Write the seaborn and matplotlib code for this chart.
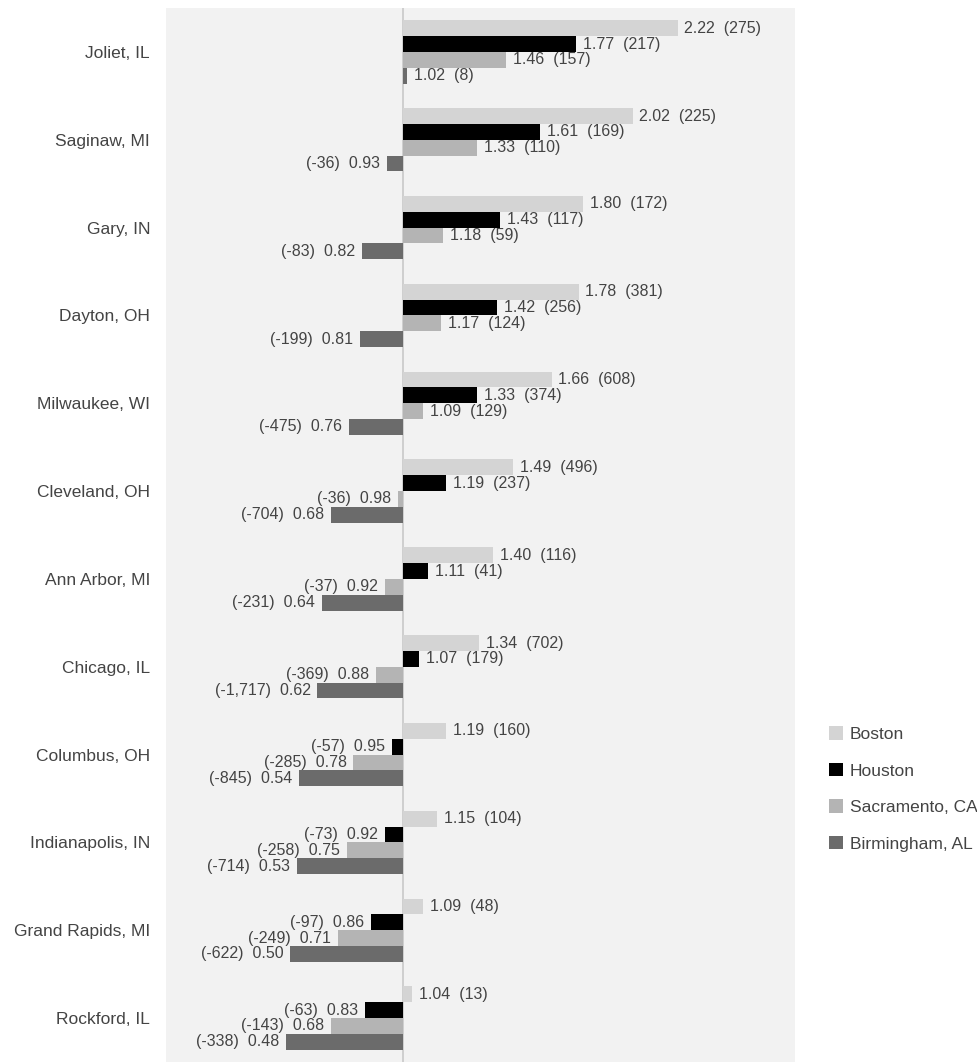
import numpy as np
import pandas as pd
import matplotlib
matplotlib.use("Agg")
import matplotlib.pyplot as plt
from matplotlib.patches import Patch
import seaborn as sns

# --- DATA ---
cities = ["Joliet, IL", "Saginaw, MI", "Gary, IN", "Dayton, OH", "Milwaukee, WI",
          "Cleveland, OH", "Ann Arbor, MI", "Chicago, IL", "Columbus, OH",
          "Indianapolis, IN", "Grand Rapids, MI", "Rockford, IL"]
series = ["Boston", "Houston", "Sacramento, CA", "Birmingham, AL"]

boston_ratio = [2.22, 2.02, 1.80, 1.78, 1.66, 1.49, 1.40, 1.34, 1.19, 1.15, 1.09, 1.04]
boston_count = [275, 225, 172, 381, 608, 496, 116, 702, 160, 104, 48, 13]
houston_ratio = [1.77, 1.61, 1.43, 1.42, 1.33, 1.19, 1.11, 1.07, 0.95, 0.92, 0.86, 0.83]
houston_count = [217, 169, 117, 256, 374, 237, 41, 179, -57, -73, -97, -63]
sacramento_ratio = [1.46, 1.33, 1.18, 1.17, 1.09, 0.98, 0.92, 0.88, 0.78, 0.75, 0.71, 0.68]
sacramento_count = [157, 110, 59, 124, 129, -36, -37, -369, -285, -258, -249, -143]
birmingham_ratio = [1.02, 0.93, 0.82, 0.81, 0.76, 0.68, 0.64, 0.62, 0.54, 0.53, 0.50, 0.48]
birmingham_count = [8, -36, -83, -199, -475, -704, -231, -1717, -845, -714, -622, -338]

colors = ["#d4d4d4", "#000000", "#b4b4b4", "#6b6b6b"]

ratios = [boston_ratio, houston_ratio, sacramento_ratio, birmingham_ratio]
counts = [boston_count, houston_count, sacramento_count, birmingham_count]

rows = []
for s, r_list, c_list in zip(series, ratios, counts):
    for city, r, c in zip(cities, r_list, c_list):
        rows.append({"city": city, "series": s, "ratio": r, "count": c, "delta": r - 1.0})
df = pd.DataFrame(rows)

# --- STYLE ---
sns.set_style("white", {"axes.facecolor": "#f2f2f2"})
plt.rcParams["font.family"] = ["Liberation Sans", "DejaVu Sans"]
text_color = "#444444"

fig = plt.figure(figsize=(9.78, 10.63), dpi=100)
ax = fig.add_axes([166 / 978, 1 - 1062 / 1063, 629 / 978, 1054 / 1063])

sns.barplot(data=df, x="delta", y="city", hue="series", order=cities,
            hue_order=series, palette=colors, orient="h", width=0.72,
            gap=0, legend=False, saturation=1, linewidth=0, ax=ax)

ax.axvline(0, color="#cccccc", lw=1.3, zorder=0.5)

# --- LABELS ---
for container, s in zip(ax.containers, series):
    sub = df[df["series"] == s].set_index("city").loc[cities]
    for bar, (r, c) in zip(container, zip(sub["ratio"], sub["count"])):
        y = bar.get_y() + bar.get_height() / 2
        d = r - 1.0
        if d >= 0:
            ax.annotate(f"{r:.2f}  ({c:,})", (d, y), xytext=(5, 0),
                        textcoords="offset points", ha="left", va="center",
                        fontsize=11.5, color=text_color)
        else:
            ax.annotate(f"({c:,})  {r:.2f}", (d, y), xytext=(-5, 0),
                        textcoords="offset points", ha="right", va="center",
                        fontsize=11.5, color=text_color)

ax.set_xlim(-1.053, 1.742)
ax.set_ylim(11.5, -0.5)
ax.set_xlabel("")
ax.set_ylabel("")
ax.set_xticks([])
ax.tick_params(axis="y", length=0, pad=11.5, labelsize=12.5, labelcolor=text_color)
sns.despine(ax=ax, left=True, bottom=True, top=True, right=True)

handles = [Patch(facecolor=c, edgecolor="none", label=s) for c, s in zip(colors, series)]
fig.legend(handles=handles, loc="center left", bbox_to_anchor=(829 / 978, 1 - 789 / 1063),
           frameon=False, fontsize=12.5, handlelength=0.8, handleheight=0.8,
           handletextpad=0.4, labelspacing=1.2, borderpad=0, borderaxespad=0,
           labelcolor=text_color)

plt.savefig("out.png", dpi=100)
